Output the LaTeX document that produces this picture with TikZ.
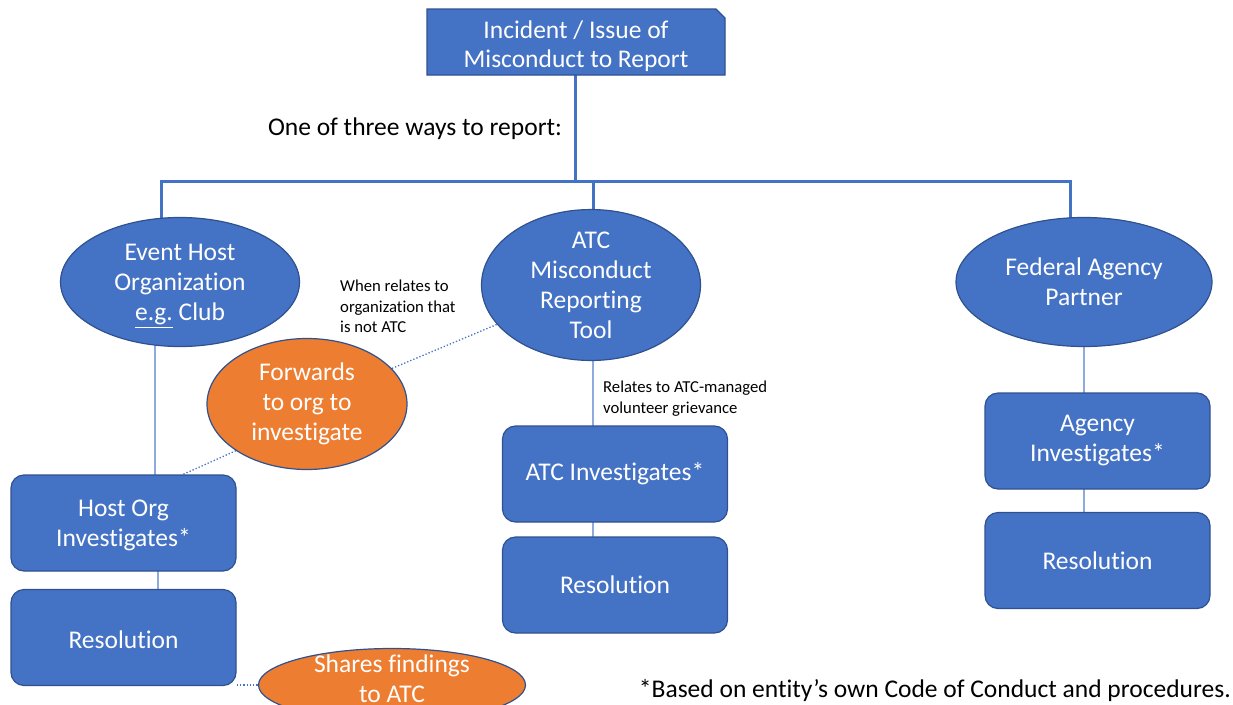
\documentclass[tikz,border=0pt]{standalone}
\usepackage{fontspec}
\setmainfont{Carlito}[Ligatures=NoCommon]
\usetikzlibrary{shapes.geometric,backgrounds}
\definecolor{oblue}{HTML}{4472C4}
\definecolor{oedge}{HTML}{2F528F}
\definecolor{oorange}{HTML}{ED7D31}
\definecolor{olight}{HTML}{8FAADC}
\tikzset{
  x=1pt,y=-1pt,
  big/.style={font=\fontsize{25.5}{30}\selectfont},
  base/.style={big,draw=oedge,line width=1.2pt,text=white,align=center,inner sep=0pt},
  wtext/.style={big,text=white,align=center,inner sep=0pt},
  shapeline/.style={draw=oedge,line width=1.2pt},
  ell/.style={base,ellipse,fill=oblue},
  oell/.style={base,ellipse,fill=oorange},
  rbox/.style={base,rectangle,rounded corners=13pt,fill=oblue,minimum width=225pt,minimum height=96pt},
  trunk/.style={draw=oblue,line width=3pt},
  conn/.style={draw=olight,line width=1.2pt},
  dots/.style={draw=oblue,line width=1.3pt,dotted},
  note/.style={align=left,inner sep=0pt,font=\fontsize{16.7}{20.5}\selectfont,anchor=north west},
}
\begin{document}
\begin{tikzpicture}
\useasboundingbox (0,0) rectangle (1233,704);
\clip (0,0) rectangle (1233,704);
% top box (snipped corner)
\path[shapeline,fill=oblue] (427,9) -- (716,9) -- (725,18) -- (725,75) -- (427,75) -- cycle;
\node[wtext] (top) at (576,46) {Incident / Issue of\\[-1pt]Misconduct to Report};
\coordinate (topb) at (575,75);
\node[big,inner sep=0pt] (ways) at (415,129) {One of three ways to report:};
% ellipses
\node[ell,minimum width=239pt,minimum height=129pt] (eh) at (180,282) {};
\node[wtext] (eht) at (180,286) {Event Host\\Organization\\\underline{e.g.} Club};
\node[ell,minimum width=219pt,minimum height=130pt] (atc) at (591,285) {ATC\\Misconduct\\Reporting\\Tool};
\node[ell,minimum width=256pt,minimum height=129pt] (fed) at (1084,282) {Federal Agency\\Partner};
\node[oell,minimum width=200pt,minimum height=131pt] (fw) at (307,404) {Forwards\\to org to\\investigate};
% boxes
\node[rbox] (hi) at (123.5,523) {};
\node[wtext] (hit) at (123.5,525) {Host Org\\Investigates*};
\node[rbox] (r1) at (123.5,637.5) {};
\node[wtext] (r1t) at (123.5,639.5) {Resolution};
\node[rbox] (ai) at (615,474) {ATC Investigates*};
\node[rbox] (r2) at (615,585) {Resolution};
\node[rbox] (gi) at (1097.5,441) {Agency\\Investigates*};
\node[rbox] (r3) at (1097.5,560.5) {Resolution};
\node[oell,minimum width=267pt,minimum height=73pt] (sh) at (392,685) {};
\node[wtext] (sht) at (392,679) {Shares findings\\to ATC};
% notes
\node[note] (n1) at (340,280) {When relates to\\organization that\\is not ATC};
\node[note] (n2) at (603,381) {Relates to ATC-managed\\volunteer grievance};
\node[big,inner sep=0pt,anchor=east] (foot) at (1231,690) {*Based on entity’s own Code of Conduct and procedures.};
% connectors
\begin{pgfonlayer}{background}
\coordinate (bj) at (575,181);
\coordinate (bl) at (161,181);
\coordinate (br) at (1070,181);
\draw[trunk] (topb) -- (bj);
\draw[trunk] ([xshift=-1.5pt]bl) -- ([xshift=1.5pt]br);
\draw[trunk] (bl) -- (eh.center -| bl);
\draw[trunk] (bj -| 593,0) -- (atc.center -| 593,0);
\draw[trunk] (br) -- (fed.center -| br);
\draw[conn] (eh.center -| 155,0) -- (hi.center -| 155,0);
\draw[conn] (hi.center -| 158,0) -- (r1.center -| 158,0);
\draw[conn] (atc.center -| 593,0) -- (r2.center -| 593,0);
\draw[conn] (fed.center -| 1084,0) -- (r3.center -| 1084,0);
\draw[dots] (atc.center) -- (fw.center);
\draw[dots] (fw.south west) -- (hi.north -| 183,0);
\draw[dots] (r1.east |- sh.west) -- (sh.west);
\end{pgfonlayer}
\end{tikzpicture}
\end{document}
